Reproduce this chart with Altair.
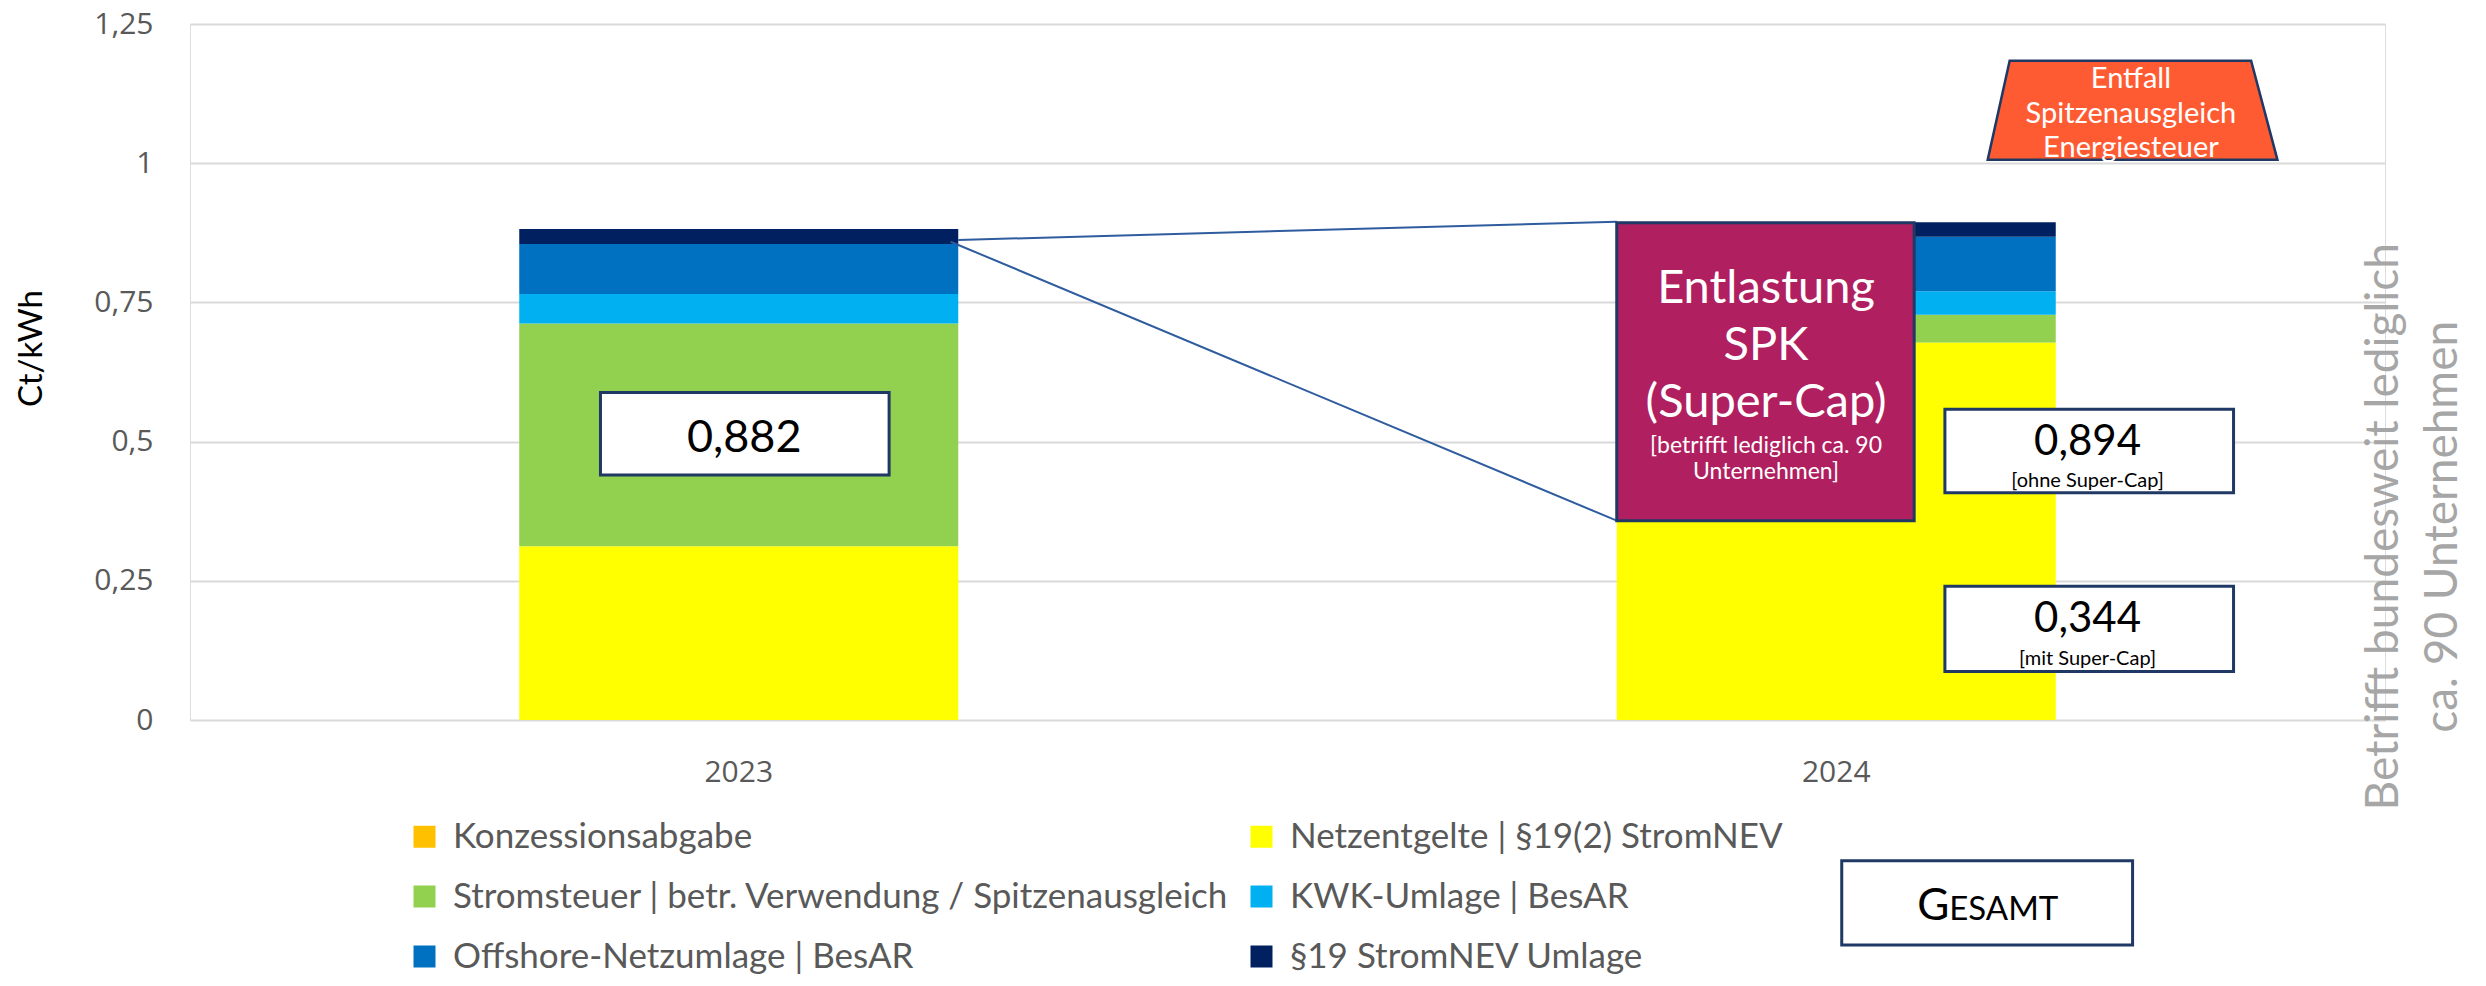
import altair as alt
import pandas as pd

# ---------------- data ----------------
years = ["2023", "2024"]
components = [
    "Konzessionsabgabe",
    "Netzentgelte | §19(2) StromNEV",
    "Stromsteuer | betr. Verwendung / Spitzenausgleich",
    "KWK-Umlage | BesAR",
    "Offshore-Netzumlage | BesAR",
    "§19 StromNEV Umlage",
]
values_2023 = [0.0, 0.312, 0.400, 0.053, 0.090, 0.027]
values_2024 = [0.0, 0.678, 0.050, 0.042, 0.098, 0.026]
colors = ["#FFC000", "#FFFF00", "#92D050", "#00B0F0", "#0070C0", "#002060"]
total_mit_supercap = 0.344
y_ticks = [0, 0.25, 0.5, 0.75, 1, 1.25]

rows = []
for yr, vals in zip(years, [values_2023, values_2024]):
    for i, (c, v) in enumerate(zip(components, vals)):
        rows.append({"Jahr": yr, "Komponente": c, "Wert": v, "Ordnung": i})
df = pd.DataFrame(rows)


def de(v):
    return f"{v:.3f}".replace(".", ",")


FONT = "Lato"
NAVY = "#1F3864"
YDOM = [0, 1.25]


def xq(f):
    return alt.X(f, type="quantitative", scale=alt.Scale(domain=[0, 2], nice=False, zero=False), axis=None)


def yq(f):
    return alt.Y(f, type="quantitative", scale=alt.Scale(domain=YDOM, nice=False, zero=False), axis=None)


# ---------------- bars ----------------
bars = alt.Chart(df).mark_bar().encode(
    x=alt.X("Jahr:N",
            scale=alt.Scale(domain=years, paddingInner=0.6, paddingOuter=0.3),
            axis=alt.Axis(title=None, labelAngle=0, labelFontSize=30, labelColor="#595959",
                          labelFont="Open Sans", ticks=False, tickSize=0, domain=False,
                          labelPadding=37, grid=False)),
    y=alt.Y("Wert:Q", stack="zero",
            scale=alt.Scale(domain=YDOM, nice=False),
            axis=alt.Axis(title="Ct/kWh", values=y_ticks,
                          labelExpr="replace(toString(datum.value), '.', ',')",
                          labelFontSize=30, labelColor="#595959", labelFont="Open Sans",
                          ticks=False, tickSize=0, domain=False, labelPadding=37,
                          grid=True, gridColor="#D9D9D9", gridWidth=2,
                          titleFontSize=33, titleColor="#000000", titleFont=FONT,
                          titleFontWeight="normal", titleAngle=270, titleAlign="center",
                          titleBaseline="middle", titleX=-159, titleY=324)),
    color=alt.Color("Komponente:N",
                    scale=alt.Scale(domain=components, range=colors),
                    legend=alt.Legend(title=None, orient="none", legendX=217, legendY=795,
                                      direction="horizontal", columns=2,
                                      symbolType="square", symbolSize=484,
                                      symbolStrokeWidth=0, labelFontSize=35,
                                      labelColor="#595959", labelFont=FONT, labelOffset=11,
                                      rowPadding=24, columnPadding=14, labelLimit=1200,
                                      padding=0)),
    order=alt.Order("Ordnung:Q", sort="ascending"),
)

# ---------------- connector lines ----------------
lines_df = pd.DataFrame({"x": [0.700, 0.693], "y": [0.862, 0.859],
                         "x2": [1.300, 1.300], "y2": [0.895, 0.358]})
lines = alt.Chart(lines_df).mark_rule(color="#2E5C9E", strokeWidth=2).encode(
    x=xq("x"), x2="x2", y=yq("y"), y2="y2")

# ---------------- boxes ----------------
white_df = pd.DataFrame({
    "x0": [0.374, 1.599, 1.599, 1.505],
    "x1": [0.637, 1.862, 1.862, 1.770],
    "y0": [0.440, 0.408, 0.087, -0.253],
    "y1": [0.588, 0.558, 0.240, -0.404],
})
white_boxes = alt.Chart(white_df).mark_rect(fill="#FFFFFF", stroke=NAVY, strokeWidth=3).encode(
    x=xq("x0"), x2="x1", y=yq("y0"), y2="y1")

mag_df = pd.DataFrame({"x0": [1.300], "x1": [1.571], "y0": [0.358], "y1": [0.893]})
mag_box = alt.Chart(mag_df).mark_rect(fill="#B01F5F", stroke=NAVY, strokeWidth=3).encode(
    x=xq("x0"), x2="x1", y=yq("y0"), y2="y1")

trap_df = pd.DataFrame({"y": [1.006, 1.184], "xl": [1.638, 1.658], "xr": [1.902, 1.878]})
trap = alt.Chart(trap_df).mark_area(orient="horizontal", fill="#FF5B33", stroke=NAVY,
                                    strokeWidth=2.5, opacity=1).encode(
    y=yq("y"), x=xq("xl"), x2="xr")

# ---------------- texts ----------------
white_txt_df = pd.DataFrame({
    "x": [1.436] * 5 + [1.7685] * 3,
    "y": [0.749, 0.6466, 0.544, 0.4795, 0.4328, 1.135, 1.072, 1.011],
    "t": ["Entlastung", "SPK", "(Super-Cap)", "[betrifft lediglich ca. 90", "Unternehmen]",
          "Entfall", "Spitzenausgleich", "Energiesteuer"],
    "s": [47, 47, 47, 23, 23, 29, 29, 29],
})
white_txt = alt.Chart(white_txt_df).mark_text(color="#FFFFFF", font=FONT, align="center",
                                              baseline="alphabetic").encode(
    x=xq("x"), y=yq("y"), text="t:N", size=alt.Size("s:Q", scale=None))

black_txt_df = pd.DataFrame({
    "x": [0.505, 1.729, 1.729, 1.729, 1.729],
    "y": [0.481, 0.476, 0.418, 0.158, 0.099],
    "t": [de(sum(values_2023)), de(sum(values_2024)), "[ohne Super-Cap]",
          de(total_mit_supercap), "[mit Super-Cap]"],
    "s": [45, 42, 20, 42, 20],
})
black_txt = alt.Chart(black_txt_df).mark_text(color="#000000", font=FONT, align="center",
                                              baseline="alphabetic").encode(
    x=xq("x"), y=yq("y"), text="t:N", size=alt.Size("s:Q", scale=None))

g_df = pd.DataFrame({"x": [1.603], "y": [-0.359], "t": ["G"]})
g_txt = alt.Chart(g_df).mark_text(color="#000000", font=FONT, align="right",
                                  baseline="alphabetic", fontSize=44).encode(
    x=xq("x"), y=yq("y"), text="t:N")
esamt_df = pd.DataFrame({"x": [1.603], "y": [-0.359], "t": ["ESAMT"]})
esamt_txt = alt.Chart(esamt_df).mark_text(color="#000000", font=FONT, align="left",
                                          baseline="alphabetic", fontSize=33).encode(
    x=xq("x"), y=yq("y"), text="t:N")

side_df = pd.DataFrame({"x": [1.999], "y": [0.347]})
side_txt = alt.Chart(side_df).mark_text(
    text=["Betrifft bundesweit lediglich", "ca. 90 Unternehmen"],
    angle=270, align="center", baseline="middle", fontSize=46, lineHeight=59,
    color="#A6A6A6", font=FONT).encode(x=xq("x"), y=yq("y"))

chart = alt.layer(
    bars, lines, mag_box, white_boxes, trap, white_txt, black_txt, g_txt, esamt_txt, side_txt
).resolve_scale(
    x="independent", y="independent", size="independent"
).properties(
    width=2195, height=696,
    autosize=alt.AutoSizeParams(type="none"),
    padding={"left": 182, "top": 16, "right": 90, "bottom": 258},
).configure_view(stroke=None).configure(font=FONT)

chart.save("out.html", embed_options={"renderer": "svg", "actions": False})
